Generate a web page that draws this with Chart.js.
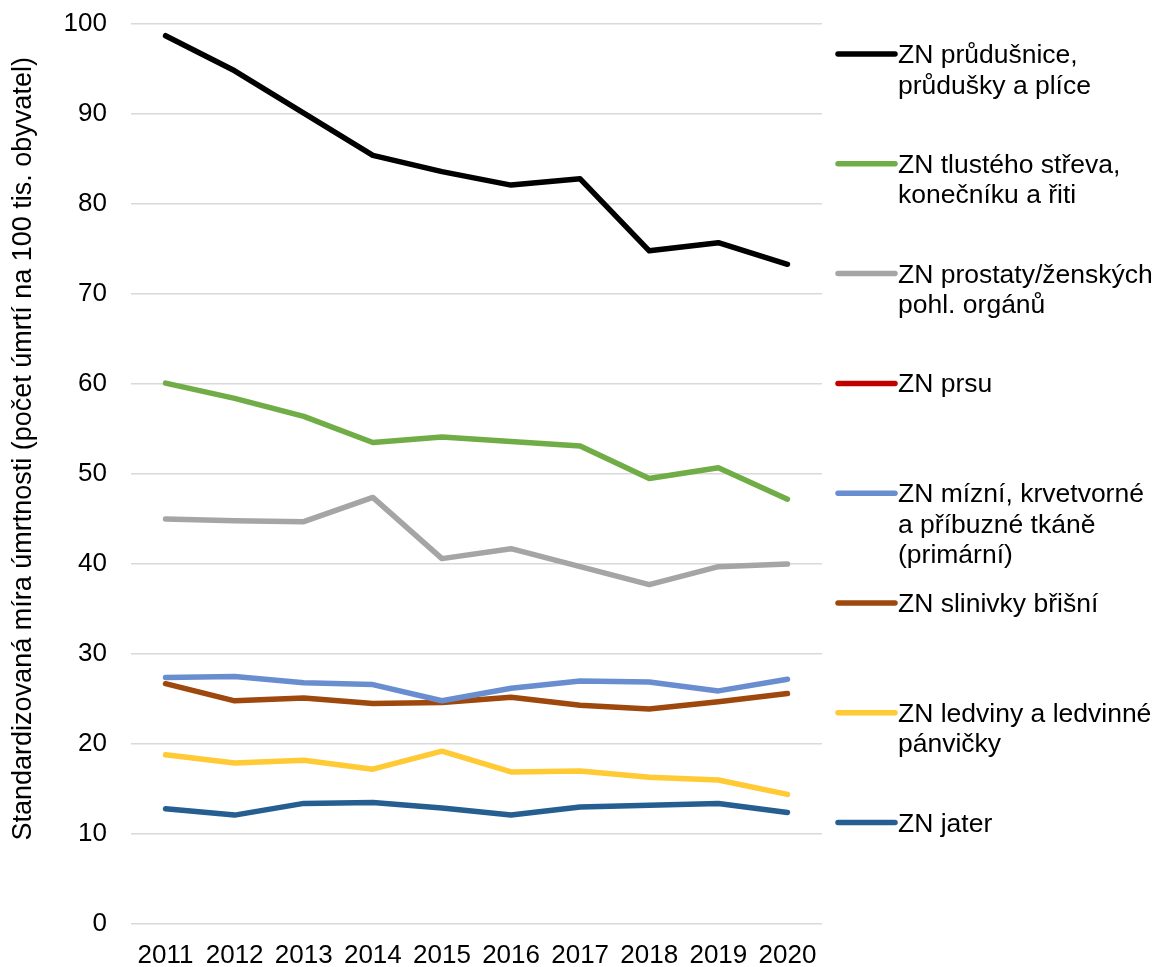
<!DOCTYPE html>
<html>
<head>
<meta charset="utf-8">
<script src="https://cdn.jsdelivr.net/npm/chart.js@4/dist/chart.umd.min.js"></script>
<style>
html,body{margin:0;padding:0;background:#fff;}
#wrap{width:1158px;height:967px;position:relative;}
</style>
</head>
<body>
<div id="wrap"><canvas id="c" width="1158" height="967"></canvas></div>
<script>
const years = ['2011','2012','2013','2014','2015','2016','2017','2018','2019','2020'];
const yTicks = [0,10,20,30,40,50,60,70,80,90,100];
const yTitle = 'Standardizovaná míra úmrtnosti (počet úmrtí na 100 tis. obyvatel)';

const seriesNames = [
  ['ZN průdušnice,', 'průdušky a plíce'],
  ['ZN tlustého střeva,', 'konečníku a řiti'],
  ['ZN prostaty/ženských', 'pohl. orgánů'],
  ['ZN prsu'],
  ['ZN mízní, krvetvorné', 'a příbuzné tkáně', '(primární)'],
  ['ZN slinivky břišní'],
  ['ZN ledviny a ledvinné', 'pánvičky'],
  ['ZN jater']
];
const seriesColors = ['#000000','#70AD47','#A5A5A5','#C00000','#698ED0','#9E480E','#FFCA33','#255E91'];

const plice     = [98.7, 94.8, 90.1, 85.4, 83.6, 82.1, 82.8, 74.8, 75.7, 73.3];
const strevo    = [60.1, 58.4, 56.4, 53.5, 54.1, 53.6, 53.1, 49.5, 50.7, 47.2];
const prostata  = [45.0, 44.8, 44.7, 47.4, 40.6, 41.7, 39.7, 37.7, 39.7, 40.0];
const prsu      = [null, null, null, null, null, null, null, null, null, null];
const mizni     = [27.4, 27.5, 26.8, 26.6, 24.8, 26.2, 27.0, 26.9, 25.9, 27.2];
const slinivka  = [26.7, 24.8, 25.1, 24.5, 24.6, 25.2, 24.3, 23.9, 24.7, 25.6];
const ledviny   = [18.8, 17.9, 18.2, 17.2, 19.2, 16.9, 17.0, 16.3, 16.0, 14.4];
const jatra     = [12.8, 12.1, 13.4, 13.5, 12.9, 12.1, 13.0, 13.2, 13.4, 12.4];

const seriesData = [plice, strevo, prostata, prsu, mizni, slinivka, ledviny, jatra];

const FONT = "Arial, 'Liberation Sans', sans-serif";
const FS = 26;

const datasets = seriesData.map((d, i) => ({
  label: seriesNames[i].join(' '),
  lines: seriesNames[i],
  data: d,
  borderColor: seriesColors[i],
  backgroundColor: seriesColors[i],
  borderWidth: 5.5,
  pointRadius: 0,
  pointHoverRadius: 0,
  tension: 0,
  fill: false,
  borderCapStyle: 'round',
  borderJoinStyle: 'round',
  spanGaps: false
}));

const customLegend = {
  id: 'customLegend',
  afterDraw(chart) {
    const ctx = chart.ctx;
    const ca = chart.chartArea;
    ctx.save();
    const x0 = ca.right + 16;
    const symW = 57;
    const step = 109.8;
    const lineH = 30.5;
    ctx.font = '26.5px ' + FONT;
    ctx.textBaseline = 'alphabetic';
    ctx.textAlign = 'left';
    chart.data.datasets.forEach((ds, i) => {
      const y = ca.top + 30 + i * step;
      ctx.strokeStyle = ds.borderColor;
      ctx.lineWidth = 5.5;
      ctx.lineCap = 'round';
      ctx.beginPath();
      ctx.moveTo(x0, y);
      ctx.lineTo(x0 + symW, y);
      ctx.stroke();
      ctx.fillStyle = '#000';
      ds.lines.forEach((t, k) => {
        ctx.fillText(t, x0 + symW + 3, y + 9 + k * lineH);
      });
    });
    // y axis title
    ctx.translate(24, ca.top + (ca.bottom - ca.top) * 0.472);
    ctx.rotate(-Math.PI / 2);
    ctx.textAlign = 'center';
    ctx.textBaseline = 'middle';
    ctx.font = '27px ' + FONT;
    ctx.fillStyle = '#000';
    ctx.fillText(yTitle, 0, 0);
    ctx.restore();
  }
};

new Chart(document.getElementById('c'), {
  type: 'line',
  data: { labels: years, datasets },
  options: {
    responsive: false,
    animation: false,
    devicePixelRatio: 1,
    layout: { padding: { top: 24, right: 336, left: 0, bottom: 0 } },
    plugins: { legend: { display: false }, tooltip: { enabled: false } },
    scales: {
      x: {
        type: 'category',
        offset: true,
        grid: { display: false, drawTicks: false },
        border: { display: false },
        ticks: { color: '#000', font: { family: FONT, size: FS }, padding: 16, maxRotation: 0, autoSkip: false },
        afterFit(s) { s.height = 43; }
      },
      y: {
        min: 0, max: 100,
        afterBuildTicks(s) { s.ticks = yTicks.map(v => ({ value: v })); },
        grid: { color: '#D9D9D9', lineWidth: 1.5, drawTicks: false },
        border: { display: false },
        ticks: { color: '#000', font: { family: FONT, size: FS }, padding: 24 },
        afterFit(s) { s.width = 131; s.paddingTop = 0; s.paddingBottom = 0; }
      }
    }
  },
  plugins: [customLegend]
});
</script>
</body>
</html>
